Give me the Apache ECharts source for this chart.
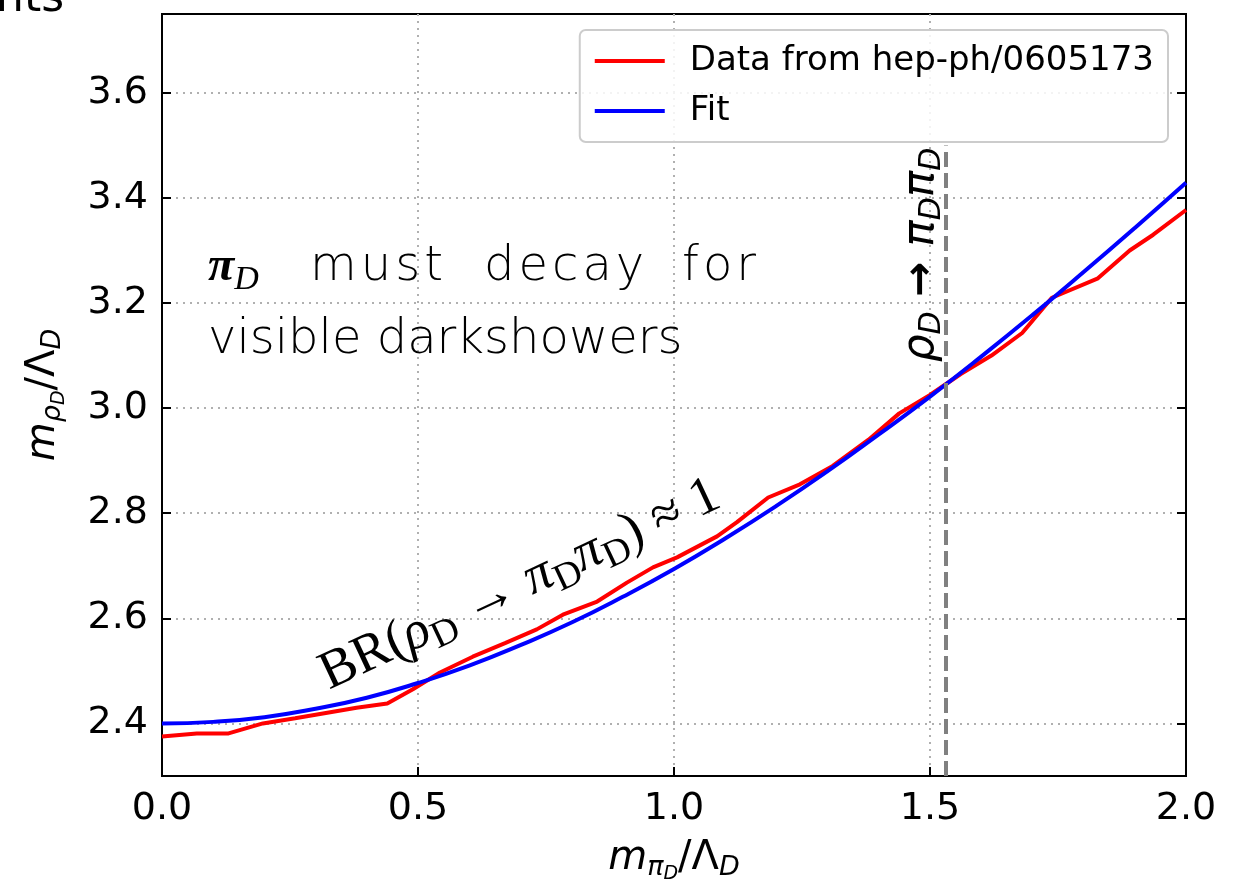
<!DOCTYPE html>
<html><head><meta charset="utf-8">
<script src="https://cdn.jsdelivr.net/npm/echarts@6/dist/echarts.min.js"></script>
<style>html,body{margin:0;padding:0;background:#fff}#c{width:1244px;height:882px}</style>
</head><body><div id="c"></div>
<script>
// ---- data ----
const xTicks = [0.0, 0.5, 1.0, 1.5, 2.0];
const yTicks = [2.4, 2.6, 2.8, 3.0, 3.2, 3.4, 3.6];
const dataX = [0, 0.068, 0.13, 0.197, 0.26, 0.32, 0.38, 0.44, 0.49, 0.543, 0.607, 0.67, 0.732, 0.783, 0.85, 0.908, 0.959, 1.006, 1.084, 1.123, 1.184, 1.246, 1.31, 1.38, 1.44, 1.5, 1.56, 1.62, 1.68, 1.738, 1.828, 1.89, 1.936, 2.0];
const dataY = [2.375, 2.381, 2.381, 2.400, 2.410, 2.420, 2.430, 2.438, 2.465, 2.497, 2.527, 2.553, 2.579, 2.607, 2.632, 2.668, 2.697, 2.716, 2.756, 2.783, 2.830, 2.855, 2.890, 2.940, 2.990, 3.025, 3.065, 3.100, 3.143, 3.210, 3.247, 3.300, 3.330, 3.377];
const fitX = [0, 0.1, 0.2, 0.3, 0.4, 0.5, 0.6, 0.7, 0.8, 0.9, 1.0, 1.1, 1.2, 1.3, 1.4, 1.5, 1.6, 1.7, 1.8, 1.9, 2.0];
const fitY = [2.400, 2.403, 2.412, 2.428, 2.449, 2.477, 2.510, 2.549, 2.592, 2.641, 2.694, 2.752, 2.814, 2.880, 2.950, 3.022, 3.098, 3.177, 3.259, 3.343, 3.429];
const thresholdX = 1.531;
const thresholdTop = 3.5;
const seriesNames = ['Data from hep-ph/0605173', 'Fit'];
const xRange = [0, 2.0];
const yRange = [2.3, 3.75];

const pair = (xs, ys) => xs.map((x, i) => [x, ys[i]]);
// letter-spaced word as rich text tokens
const spaced = w => w.split('').map(c => '{c|' + c + '}').join('');

const chart = echarts.init(document.getElementById('c'));
const F = 'DejaVu Sans';
const LF = '"DejaVu Sans ExtraLight", "DejaVu Sans"';
const subRich = {
  m: {fontFamily: F, fontStyle: 'italic', fontSize: 40, color: '#000'},
  s: {fontFamily: F, fontStyle: 'italic', fontSize: 27, color: '#000', padding: [18, 0, 0, 0]},
  ss: {fontFamily: F, fontStyle: 'italic', fontSize: 19, color: '#000', padding: [32, 0, 0, 0]},
  n: {fontFamily: F, fontSize: 40, color: '#000'}
};
const spacedRich = {c: {fontFamily: LF, fontWeight: 200, fontSize: 48, color: '#000', padding: [0, 4, 0, 0]}};

chart.setOption({
  animation: false,
  backgroundColor: '#fff',
  grid: {left: 162, right: 58, top: 14, bottom: 106, show: true, borderColor: '#000', borderWidth: 2,
         containLabel: false, outerBoundsMode: 'none'},
  legend: {
    data: seriesNames,
    orient: 'vertical',
    right: 76, top: 30,
    icon: 'rect', itemWidth: 70, itemHeight: 4, itemGap: 16,
    padding: [14, 14, 14, 15],
    backgroundColor: 'rgba(255,255,255,0.85)',
    borderColor: '#cccccc', borderWidth: 2, borderRadius: 6,
    textStyle: {fontFamily: F, fontSize: 34, color: '#000', padding: [0, 0, 0, 20]}
  },
  xAxis: {
    type: 'value', min: xRange[0], max: xRange[1], interval: 0.5,
    name: '{m|m}{s|π}{ss|D}{n|/Λ}{s|D}',
    nameLocation: 'middle', nameGap: 57,
    nameTextStyle: {rich: subRich},
    axisLine: {show: true, lineStyle: {color: '#000', width: 2}},
    axisTick: {show: true, inside: true, length: 9, lineStyle: {color: '#000', width: 2}},
    axisLabel: {fontFamily: F, fontSize: 38, color: '#000', margin: 14, formatter: v => v.toFixed(1)},
    splitLine: {show: true, lineStyle: {color: '#b0b0b0', type: [2, 5], width: 2}}
  },
  yAxis: [{
    type: 'value', min: yRange[0], max: yRange[1],
    name: '{m|m}{s|ρ}{ss|D}{n|/Λ}{s|D}',
    nameLocation: 'middle', nameGap: 93, nameRotate: 90,
    nameTextStyle: {rich: subRich},
    axisLine: {show: true, lineStyle: {color: '#000', width: 2}},
    axisTick: {show: true, inside: true, length: 9, customValues: yTicks, lineStyle: {color: '#000', width: 2}},
    axisLabel: {fontFamily: F, fontSize: 38, color: '#000', margin: 14, customValues: yTicks, formatter: v => v.toFixed(1)},
    splitLine: {show: true, lineStyle: {color: '#b0b0b0', type: [2, 5], width: 2}}
  }, {
    type: 'value', min: yRange[0], max: yRange[1], position: 'right',
    axisLine: {show: true, lineStyle: {color: '#000', width: 2}},
    axisTick: {show: true, inside: true, length: 9, customValues: yTicks, lineStyle: {color: '#000', width: 2}},
    axisLabel: {show: false, customValues: yTicks},
    splitLine: {show: false}
  }],
  series: [{
    name: seriesNames[0], type: 'line', data: pair(dataX, dataY),
    showSymbol: false, symbol: 'none', color: '#ff0000',
    lineStyle: {color: '#ff0000', width: 4}, z: 3,
    markLine: {
      silent: true, symbol: 'none', label: {show: false},
      lineStyle: {color: '#808080', width: 4, type: [15, 6]},
      data: [[{coord: [thresholdX, yRange[0]]}, {coord: [thresholdX, thresholdTop]}]]
    }
  }, {
    name: seriesNames[1], type: 'line', data: pair(fitX, fitY), smooth: true,
    showSymbol: false, symbol: 'none', color: '#0000ff',
    lineStyle: {color: '#0000ff', width: 4}, z: 4
  }],
  graphic: [
    {type: 'text', x: -4, y: 22, style: {text: 'nts', font: '44px "DejaVu Sans"', fill: '#000', verticalAlign: 'bottom'}},
    {type: 'text', x: 208, y: 268, z: 10, style: {
      text: '{p|π}{d|D}',
      verticalAlign: 'middle',
      rich: {
        p: {fontFamily: 'Liberation Serif', fontStyle: 'italic', fontWeight: 'bold', fontSize: 48, color: '#000'},
        d: {fontFamily: 'Liberation Serif', fontStyle: 'italic', fontSize: 34, color: '#000', padding: [24, 0, 0, 0]}
      }}},
    {type: 'text', x: 310, y: 268, z: 10, style: {text: spaced('must'), verticalAlign: 'middle', rich: spacedRich}},
    {type: 'text', x: 484, y: 268, z: 10, style: {text: spaced('decay'), verticalAlign: 'middle', rich: spacedRich}},
    {type: 'text', x: 682, y: 268, z: 10, style: {text: spaced('for'), verticalAlign: 'middle', rich: spacedRich}},
    {type: 'text', x: 208, y: 341, z: 10, style: {text: 'visible darkshowers', font: '200 48px ' + LF, fill: '#000', verticalAlign: 'middle'}},
    {type: 'text', x: 922, y: 255, rotation: Math.PI / 2, z: 10, style: {
      text: '{a|ρ}{b|D}{c| → }{a|π}{b|D}{a|π}{b|D}',
      align: 'center', verticalAlign: 'middle',
      rich: {
        a: {fontFamily: F, fontStyle: 'italic', fontSize: 44, color: '#000'},
        b: {fontFamily: F, fontStyle: 'italic', fontSize: 30, color: '#000', padding: [20, 0, 0, 0]},
        c: {fontFamily: F, fontWeight: 'bold', fontSize: 42, color: '#000'}
      }}},
    {type: 'text', x: 520, y: 585, rotation: 25 * Math.PI / 180, z: 10, style: {
      text: '{a|BR(}{g|ρ}{b|D}{a| → }{g|π}{b|D}{g|π}{b|D}{a|) ≈ 1}',
      align: 'center', verticalAlign: 'middle',
      rich: {
        a: {fontFamily: 'Liberation Serif', fontSize: 54, color: '#000'},
        g: {fontFamily: 'Liberation Serif', fontStyle: 'italic', fontSize: 54, color: '#000'},
        b: {fontFamily: 'Liberation Serif', fontSize: 38, color: '#000', padding: [26, 0, 0, 0]}
      }}}
  ]
});
</script></body></html>
